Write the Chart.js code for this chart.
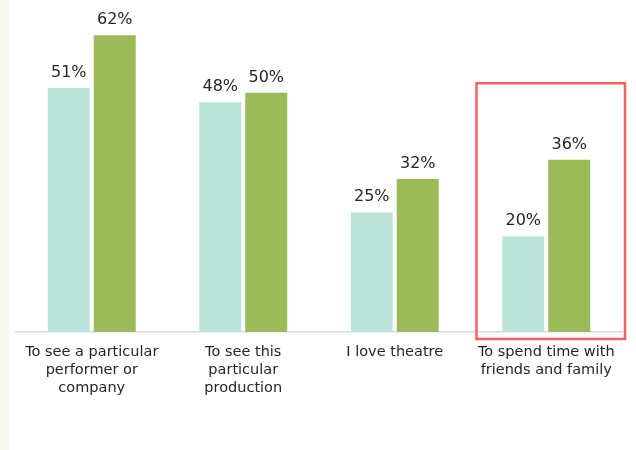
<!DOCTYPE html>
<html>
<head>
<meta charset="utf-8">
<script src="https://cdn.jsdelivr.net/npm/chart.js@4"></script>
<style>
  body { margin: 0; background: #ffffff; }
  .wrap { position: relative; width: 636px; height: 450px; }
  .strip { position: absolute; left: 0; top: 0; width: 9px; height: 450px; background: #faf8ec; }
  canvas { position: absolute; left: 0; top: 0; }
</style>
</head>
<body>
<div class="wrap">
  <div class="strip"></div>
  <canvas id="reasons" width="636" height="450"></canvas>
</div>
<script>
// reasons for attending, two survey groups
var categories = [
    ["To see a particular", "performer or", "company"],
    ["To see this", "particular", "production"],
    ["I love theatre"],
    ["To spend time with", "friends and family"]
];
var seriesA = [51, 48, 25, 20];
var seriesB = [62, 50, 32, 36];
var highlightIndex = 3;

// draws the % numbers on top of each bar
var valueLabels = {
    id: 'valueLabels',
    afterDatasetsDraw: function (chart) {
        var ctx = chart.ctx;
        ctx.save();
        ctx.font = '16px "DejaVu Sans", sans-serif';
        ctx.fillStyle = '#262626';
        ctx.textAlign = 'center';
        ctx.textBaseline = 'alphabetic';
        chart.data.datasets.forEach(function (ds, i) {
            var meta = chart.getDatasetMeta(i);
            meta.data.forEach(function (bar, j) {
                ctx.fillText(ds.data[j] + '%', bar.x, bar.y - 11);
            });
        });
        ctx.restore();
    }
};

// red box round the highlighted category
var highlightBox = {
    id: 'highlightBox',
    afterDraw: function (chart) {
        var x = chart.scales.x, y = chart.scales.y;
        var half = (x.getPixelForValue(1) - x.getPixelForValue(0)) / 2;
        var cx = x.getPixelForValue(highlightIndex);
        var top = y.getPixelForValue(52);
        var ctx = chart.ctx;
        ctx.save();
        ctx.strokeStyle = '#f4625c';
        ctx.lineWidth = 2.5;
        ctx.strokeRect(cx - half + 6, top, half * 2 - 3, chart.chartArea.bottom - top + 7);
        ctx.restore();
    }
};

var ctx = document.getElementById('reasons').getContext('2d');
new Chart(ctx, {
    type: 'bar',
    data: {
        labels: categories,
        datasets: [{
            label: 'A',
            data: seriesA,
            backgroundColor: '#bae4da',
            barPercentage: 0.913,
            categoryPercentage: 0.607
        }, {
            label: 'B',
            data: seriesB,
            backgroundColor: '#9bbb59',
            barPercentage: 0.913,
            categoryPercentage: 0.607
        }]
    },
    options: {
        responsive: false,
        animation: false,
        layout: { padding: { left: 16, right: 14, top: 21, bottom: 0 } },
        plugins: { legend: { display: false }, tooltip: { enabled: false } },
        scales: {
            x: {
                grid: { display: false, drawTicks: false },
                border: { display: true, color: '#d9d9d9', width: 1.5 },
                ticks: {
                    color: '#262626',
                    font: { family: '"DejaVu Sans", sans-serif', size: 14.5, lineHeight: 1.24 },
                    padding: 11,
                    maxRotation: 0,
                    autoSkip: false
                },
                afterFit: function (s) { s.height = 118; }
            },
            y: {
                display: false,
                min: 0,
                max: 65
            }
        }
    },
    plugins: [valueLabels, highlightBox]
});
</script>
</body>
</html>
